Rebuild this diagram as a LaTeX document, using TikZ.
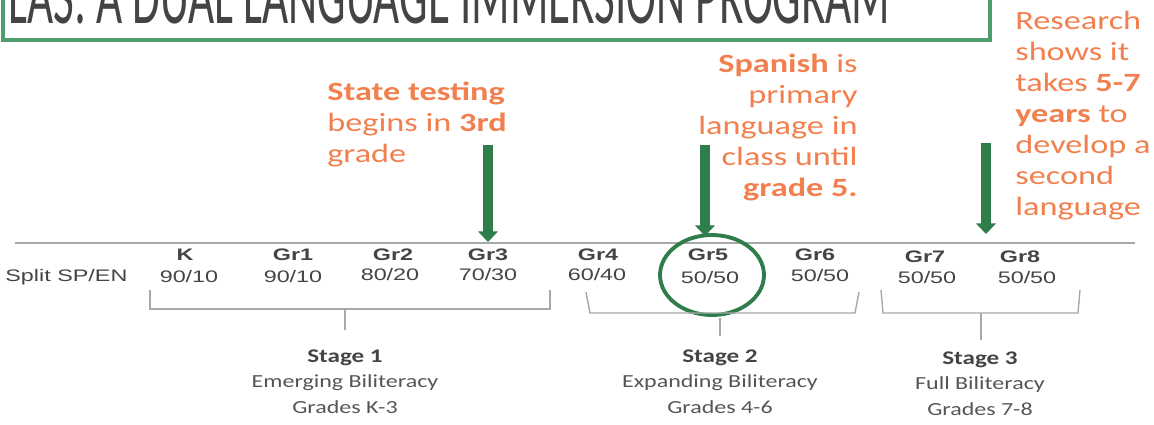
\documentclass[tikz,border=0pt]{standalone}
\usepackage{fontspec}
\setmainfont[FakeStretch=1.3]{Carlito}
\newfontfamily\titlefont{Carlito}
\newfontfamily\gradefont[FakeStretch=1.4]{Liberation Sans}
\usetikzlibrary{arrows.meta}
\definecolor{orng}{HTML}{F2804E}
\definecolor{dgreen}{HTML}{2F7D4A}
\definecolor{tgreen}{HTML}{4E9B6B}
\definecolor{gtext}{HTML}{444444}
\definecolor{stext}{HTML}{555555}
\definecolor{ltgray}{HTML}{A8A8A8}
\tikzset{
  note/.style={inner sep=0pt, text=orng, font=\fontsize{15}{17.6}\selectfont},
  grade/.style={inner sep=0pt, text=gtext, font=\gradefont\fontsize{9.5}{11}\selectfont\bfseries},
  split/.style={inner sep=0pt, text=gtext, font=\gradefont\fontsize{9.5}{11}\selectfont},
  stagehead/.style={inner sep=0pt, text=gtext, font=\fontsize{11}{13}\selectfont\bfseries},
  stagetxt/.style={inner sep=0pt, text=stext, font=\fontsize{10.5}{13}\selectfont},
  bracket/.style={ltgray, line width=0.8pt},
  bigarrow/.style={dgreen, line width=5.7pt, -{Triangle[width=11pt,length=6pt]}},
}
\begin{document}
\begin{tikzpicture}[x=0.02cm,y=-0.02cm]
\useasboundingbox (0,0) rectangle (1154,424);
\begin{scope}
\clip (0,0) rectangle (1154,424);
% title box
\draw[tgreen, line width=2.3pt] (3,-60) rectangle (990,40);
\node[anchor=base west, inner sep=0pt, text=gtext] (title) at (8,23)
  {\resizebox{502pt}{30pt}{\titlefont LAS: A DUAL LANGUAGE IMMERSION PROGRAM}};
\end{scope}

% timeline
\coordinate (lineL) at (15,243);
\coordinate (lineR) at (1135,243);
\draw[ltgray, line width=0.9pt] (lineL) -- (lineR);

% notes
\node[note, anchor=north west, align=left] (n1) at (327,82)
  {\textbf{State testing}\\begins in \textbf{3rd}\\grade};
\node[note, anchor=north east, align=right] (n2) at (858,54)
  {\textbf{Spanish} is\\primary\\language in\\class until\\\textbf{grade 5.}};
\node[note, anchor=north west, align=left] (n3) at (1015,11)
  {Research\\shows it\\takes \textbf{5-7}\\\textbf{years} to\\develop a\\second\\language};

% arrows
\coordinate (a1s) at (488,145); \coordinate (a1e) at (488,242);
\coordinate (a2s) at (705,145); \coordinate (a2e) at (705,236);
\coordinate (a3s) at (986,143); \coordinate (a3e) at (986,234);
\draw[bigarrow] (a1s) -- (a1e);
\draw[bigarrow] (a2s) -- (a2e);
\draw[bigarrow] (a3s) -- (a3e);

% grades
\node[split, anchor=west] (split) at (5,277) {Split SP/EN};
\node[grade] (gk) at (185,255) {K};
\node[grade] (g1) at (293,255) {Gr1};
\node[grade] (g2) at (393,255) {Gr2};
\node[grade] (g3) at (488,255) {Gr3};
\node[grade] (g4) at (598,255) {Gr4};
\node[grade] (g5) at (708,255) {Gr5};
\node[grade] (g6) at (815,255) {Gr6};
\node[grade] (g7) at (925,257) {Gr7};
\node[grade] (g8) at (1020,257) {Gr8};
\node[split] (vk) at (189,277) {90/10};
\node[split] (v1) at (293,277) {90/10};
\node[split] (v2) at (390,275) {80/20};
\node[split] (v3) at (488,275) {70/30};
\node[split] (v4) at (597,275) {60/40};
\node[split] (v5) at (710,278) {50/50};
\node[split] (v6) at (820,276) {50/50};
\node[split] (v7) at (927,278) {50/50};
\node[split] (v8) at (1027,278) {50/50};

% circle around Gr5
\draw[dgreen, line width=2.2pt] (712,275) ellipse [x radius=1.04cm, y radius=0.8cm];

% brackets
\draw[bracket] (150,290) -- (150,309) -- (550,309) -- (550,290);
\draw[bracket] (345,309) -- (345,330);
\draw[bracket] (586,292) -- (590,313) -- (855,313) -- (859,292);
\draw[bracket] (720,318) -- (720,336);
\draw[bracket] (881,290) -- (883,313) -- (1078,313) -- (1080,290);
\draw[bracket] (981,313) -- (981,340);

% stage labels
\node[stagehead] (s1) at (345,358) {Stage 1};
\node[stagetxt] (s1a) at (345,383) {Emerging Biliteracy};
\node[stagetxt] (s1b) at (345,407) {Grades K-3};
\node[stagehead] (s2) at (720,358) {Stage 2};
\node[stagetxt] (s2a) at (720,383) {Expanding Biliteracy};
\node[stagetxt] (s2b) at (720,407) {Grades 4-6};
\node[stagehead] (s3) at (980,360) {Stage 3};
\node[stagetxt] (s3a) at (980,385) {Full Biliteracy};
\node[stagetxt] (s3b) at (980,409) {Grades 7-8};
\end{tikzpicture}
\end{document}
